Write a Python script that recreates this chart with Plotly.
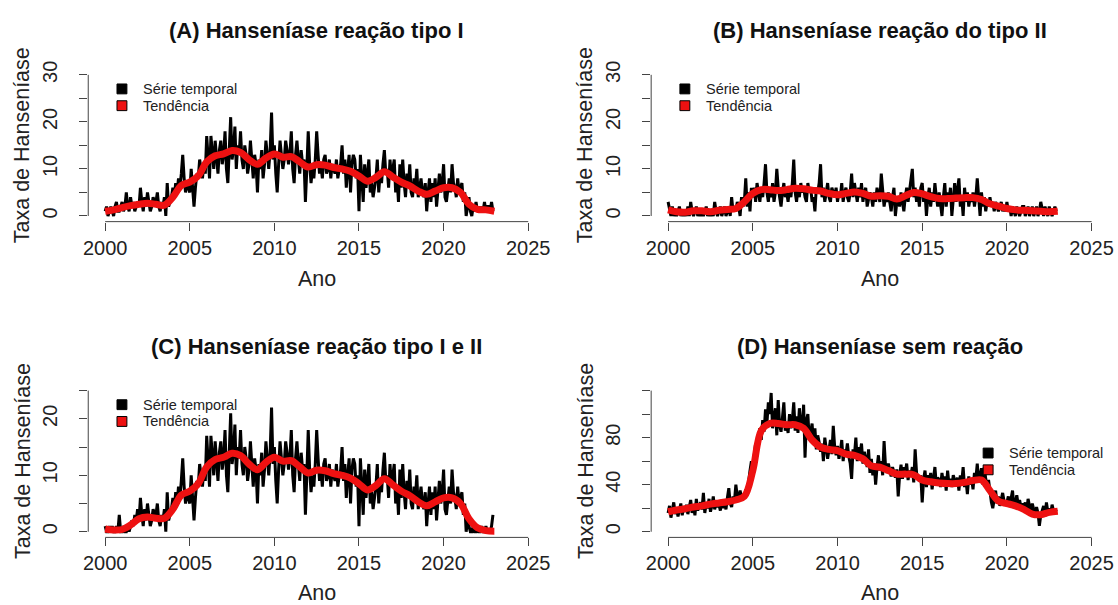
import plotly.graph_objects as go

W, H = 1118, 605
FONT = "Liberation Sans, Arial, sans-serif"

ano_inicial = 2000

# ---- (A) Hanseníase reação tipo I : série mensal 2000-2022 ----
serie_a = [
    1, 2, 0, 1, 2, 1, 0, 2, 3, 1, 1, 2,
    3, 1, 2, 5, 2, 1, 4, 2, 3, 1, 2, 3,
    2, 6, 3, 1, 4, 2, 5, 3, 1, 2, 4, 3,
    3, 5, 2, 1, 3, 2, 4, 0, 7, 2, 3, 4,
    6, 4, 7, 5, 8, 6, 9, 13, 8, 5, 7, 6,
    5, 10, 5, 2, 6, 9, 8, 12, 10, 8, 11, 9,
    17, 12, 8, 17, 13, 10, 16, 12, 9, 14, 16, 11,
    13, 18, 10, 7, 16, 21, 12, 14, 19, 10, 15, 13,
    18, 12, 10, 15, 13, 9, 11, 16, 12, 8, 13, 11,
    5, 12, 10, 14, 8, 11, 16, 13, 10, 14, 22, 12,
    15, 9, 5, 11, 16, 13, 10, 12, 16, 14, 11, 13,
    18, 10, 7, 13, 16, 12, 9, 14, 11, 12, 3, 10,
    18, 11, 7, 10, 8, 12, 18, 13, 9, 11, 8, 12,
    13, 9, 10, 12, 8, 11, 10, 9, 12, 8, 10, 11,
    15, 9, 12, 6, 10, 13, 5, 11, 13, 12, 8, 10,
    1, 13, 8, 3, 11, 6, 9, 12, 5, 7, 4, 6,
    8, 12, 5, 9, 7, 11, 14, 9, 10, 6, 12, 8,
    10, 12, 5, 8, 3, 11, 6, 12, 7, 4, 9, 6,
    11, 5, 4, 8, 6, 10, 4, 6, 8, 5, 4, 7,
    1, 5, 8, 3, 7, 4, 8, 2, 6, 9, 5, 7,
    11, 4, 3, 6, 8, 5, 11, 7, 6, 4, 8, 5,
    6, 7, 3, 5, 0, 2, 4, 1, 0, 2, 1, 3,
    1, 2, 1, 2, 1, 3, 1, 2, 2, 1, 3, 1,
]
# tendência semestral (2000.0, 2000.5, ..., 2023.0)
tend_a = [1.0, 1.3, 1.8, 2.2, 2.5, 2.7, 2.5, 2.3, 4.0, 6.5, 7.2, 8.5, 11.5, 12.8,
          13.2, 13.9, 13.5, 12.0, 11.0, 12.3, 13.2, 12.5, 12.6, 11.5, 10.4, 10.9,
          10.8, 10.3, 10.0, 9.5, 8.5, 7.4, 8.2, 9.4, 8.3, 7.2, 6.4, 5.3, 4.6, 5.3,
          6.0, 6.0, 5.0, 2.5, 1.4, 1.3, 1.0]

# ---- (B) Hanseníase reação do tipo II ----
serie_b = [
    3, 1, 0, 2, 0, 1, 0, 1, 2, 0, 1, 0,
    1, 0, 2, 0, 3, 1, 0, 1, 2, 0, 1, 0,
    1, 0, 1, 2, 0, 1, 0, 1, 0, 3, 1, 0,
    1, 2, 0, 1, 2, 0, 1, 2, 0, 4, 1, 2,
    1, 3, 2, 0, 4, 2, 3, 8, 2, 5, 1, 6,
    4, 6, 3, 7, 5, 3, 6, 4, 7, 11, 5, 3,
    6, 4, 7, 3, 5, 10, 6, 4, 2, 5, 7, 4,
    5, 3, 6, 4, 7, 12, 5, 3, 6, 4, 7, 5,
    6, 4, 3, 7, 5, 6, 3, 4, 1, 6, 5, 7,
    11, 4, 6, 3, 5, 7, 4, 3, 6, 5, 4, 6,
    3, 5, 4, 7, 3, 5, 6, 4, 3, 5, 9, 4,
    7, 5, 3, 6, 4, 7, 3, 5, 6, 2, 4, 5,
    4, 2, 5, 3, 6, 4, 3, 9, 5, 2, 4, 3,
    5, 3, 1, 4, 6, 0, 3, 4, 2, 5, 3, 1,
    4, 6, 3, 5, 7, 10, 4, 6, 3, 5, 2, 6,
    7, 3, 5, 0, 4, 6, 2, 5, 3, 7, 4, 2,
    5, 3, 0, 4, 7, 2, 5, 3, 6, 0, 4, 7,
    3, 5, 8, 2, 4, 0, 6, 3, 5, 2, 4, 3,
    5, 2, 4, 8, 3, 0, 5, 2, 4, 1, 3, 2,
    4, 2, 3, 1, 3, 2, 1, 2, 3, 1, 2, 1,
    3, 1, 2, 0, 2, 1, 0, 2, 1, 0, 1, 2,
    2, 0, 1, 2, 0, 1, 2, 0, 1, 2, 0, 1,
    3, 1, 0, 2, 1, 0, 2, 1, 0, 1, 2, 1,
]
tend_b = [1.3, 0.9, 0.8, 1.1, 1.1, 0.9, 1.2, 1.4, 1.6, 3.0, 4.8, 5.6, 5.6, 5.4,
          5.6, 5.9, 5.8, 5.5, 5.3, 4.8, 4.5, 4.8, 5.1, 4.8, 4.2, 4.3, 4.2, 3.6,
          4.3, 5.0, 4.7, 4.1, 3.7, 3.7, 3.8, 3.9, 3.9, 3.5, 2.6, 2.1, 1.6, 1.3,
          1.2, 1.1, 1.0, 0.9, 1.0]

# ---- (C) Hanseníase reação tipo I e II ----
serie_c_2000_2001 = [
    1, 0, 0, 1, 0, 1, 0, 0, 1, 0, 3, 0,
    0, 1, 0, 0, 1, 0, 1, 2, 1, 3, 2, 4,
]
serie_c_2021_2022 = [
    6, 7, 3, 5, 0, 2, 1, 0, 0, 1, 0, 0,
    1, 0, 0, 1, 0, 0, 1, 0, 0, 0, 1, 3,
]
serie_c = serie_c_2000_2001 + serie_a[24:252] + serie_c_2021_2022
tend_c = [0.5, 0.3, 0.4, 1.2, 2.3, 2.6, 2.4, 2.4, 4.0, 6.5, 7.2, 8.5, 11.5, 12.8,
          13.2, 13.9, 13.5, 12.0, 11.0, 12.3, 13.2, 12.5, 12.6, 11.5, 10.4, 10.9,
          10.8, 10.3, 10.0, 9.5, 8.5, 7.4, 8.2, 9.4, 8.3, 7.2, 6.4, 5.3, 4.6, 5.3,
          6.0, 6.0, 5.0, 2.3, 0.7, 0.2, 0.1]

# ---- (D) Hanseníase sem reação ----
serie_d = [
    16, 22, 12, 18, 25, 15, 20, 13, 19, 24, 14, 21,
    17, 23, 15, 20, 27, 16, 22, 14, 28, 18, 21, 25,
    19, 33, 16, 24, 20, 28, 17, 22, 30, 19, 25, 21,
    23, 18, 27, 20, 25, 19, 29, 37, 24, 21, 30, 26,
    40, 30, 27, 35, 29, 32, 28, 36, 33, 45, 52, 60,
    48, 65, 75, 70, 82, 88, 78, 95, 85, 104, 92, 110,
    100, 118, 88, 95, 105, 82, 112, 90, 85, 97, 110, 86,
    92, 84, 100, 88, 95, 110, 86, 98, 84, 105, 90, 88,
    108, 63, 95, 100, 78, 85, 92, 74, 88, 70, 82, 76,
    68, 75, 60, 80, 72, 62, 70, 78, 66, 90, 72, 65,
    73, 62, 68, 78, 60, 70, 66, 75, 64, 58, 45, 70,
    65, 80, 60, 72, 66, 75, 58, 68, 62, 55, 70, 50,
    62, 48, 58, 40, 55, 65, 52, 60, 48, 77, 56, 50,
    58, 52, 47, 55, 50, 46, 53, 30, 48, 57, 45, 55,
    50, 58, 44, 52, 48, 55, 42, 70, 50, 46, 43, 48,
    25, 45, 52, 38, 48, 42, 50, 36, 47, 55, 40, 46,
    44, 38, 50, 42, 47, 35, 52, 40, 45, 38, 48, 43,
    40, 46, 35, 48, 42, 55, 38, 44, 32, 47, 40, 45,
    36, 50, 45, 58, 42, 48, 54, 40, 55, 45, 38, 44,
    32, 25, 20, 28, 35, 24, 30, 22, 27, 33, 26, 24,
    25, 30, 22, 28, 35, 20, 26, 31, 23, 27, 21, 24,
    20, 25, 17, 28, 22, 15, 24, 19, 14, 21, 16, 5,
    14, 18, 22, 13, 25, 17, 20, 15, 23, 18, 16, 19,
]
tend_d = [17, 18.5, 19.5, 21, 22, 23.5, 24.5, 25.5, 27, 30, 52, 86, 92, 92, 91, 91,
          88, 78, 72, 70, 69, 66, 65, 62, 56, 55, 52, 49, 49, 48.5, 44, 42.5, 41.5,
          41, 41, 42, 43.5, 44, 35, 26, 24, 22, 19, 15, 14.5, 16.5, 17.5]

titulos = ["(A) Hanseníase reação tipo I", "(B) Hanseníase reação do tipo II",
           "(C) Hanseníase reação tipo I e II", "(D) Hanseníase sem reação"]
anos_ticks = [2000, 2005, 2010, 2015, 2020, 2025]
legenda = ["Série temporal", "Tendência"]

# y axis ticks per panel
y_ticks = [[0, 5, 10, 15, 20, 25, 30], [0, 5, 10, 15, 20, 25, 30],
           [0, 5, 10, 15, 20, 25], [0, 20, 40, 60, 80, 100, 120]]
y_labels = [["0", "", "10", "", "20", "", "30"], ["0", "", "10", "", "20", "", "30"],
            ["0", "", "10", "", "20", ""], ["0", "", "40", "", "80", "", ""]]

series = [serie_a, serie_b, serie_c, serie_d]
tendencias = [tend_a, tend_b, tend_c, tend_d]


def px(x):
    return x / W


def py(y):
    return 1 - y / H


# layout in pixels
col_x = [(84, 545), (652, 1113.5)]
row_y = [(62, 216.5), (382, 536.5)]
leg_pos = [(118, 82), (686, 82), (118, 402), (992, 451)]

fig = go.Figure()
shapes = []
annotations = []

for k in range(4):
    r, c = divmod(k, 2)
    sfx = "" if k == 0 else str(k + 1)
    xa, ya = "x" + sfx, "y" + sfx
    s = series[k]
    t = tendencias[k]
    xs = [ano_inicial + i / 12 for i in range(len(s))]
    xt = [ano_inicial + 0.5 * i for i in range(len(t))]
    fig.add_trace(go.Scatter(x=xs, y=s, mode="lines", line=dict(color="black", width=3.0),
                             xaxis=xa, yaxis=ya, showlegend=False, name=legenda[0]))
    fig.add_trace(go.Scatter(x=xt, y=t, mode="lines",
                             line=dict(color="#ee1111", width=7, shape="spline", smoothing=1.0),
                             xaxis=xa, yaxis=ya, showlegend=False, name=legenda[1]))
    ymax = y_ticks[k][-1]
    ext = 0.04 * ymax
    x0p, x1p = col_x[c]
    y0p, y1p = row_y[r]
    fig.update_layout(**{
        "xaxis" + sfx: dict(domain=[px(x0p), px(x1p)], range=[1999, 2026], tickvals=anos_ticks,
                            ticks="outside", ticklen=8, tickcolor="#444", tickwidth=1,
                            showline=False, showgrid=False, zeroline=False,
                            tickfont=dict(family=FONT, size=20, color="#222"),
                            anchor=ya, fixedrange=True),
        "yaxis" + sfx: dict(domain=[py(y1p), py(y0p)], range=[-ext, ymax + ext],
                            tickvals=y_ticks[k], ticktext=y_labels[k], tickangle=-90,
                            ticks="outside", ticklen=8, tickcolor="#444", tickwidth=1,
                            ticklabelstandoff=14,
                            showline=False, showgrid=False, zeroline=False,
                            tickfont=dict(family=FONT, size=20, color="#222"),
                            anchor=xa, fixedrange=True),
    })
    # R-style axis lines spanning first to last tick
    shapes.append(dict(type="line", xref=xa, yref=ya + " domain", x0=2000, x1=2025, y0=0, y1=0,
                       line=dict(color="#444", width=1)))
    shapes.append(dict(type="line", xref=xa + " domain", yref=ya, x0=0, x1=0, y0=0, y1=ymax,
                       line=dict(color="#444", width=1)))
    # titles
    cx = (x0p + x1p) / 2
    annotations.append(dict(text="<b>" + titulos[k] + "</b>", x=px(cx), y=py(23 + 320 * r),
                            xref="paper", yref="paper", showarrow=False, xanchor="center", yanchor="middle",
                            font=dict(family=FONT, size=22, color="#111")))
    annotations.append(dict(text="Ano", x=px(cx), y=py(275 + 318 * r), xref="paper", yref="paper",
                            showarrow=False, xanchor="center", yanchor="middle",
                            font=dict(family=FONT, size=21.5, color="#222")))
    annotations.append(dict(text="Taxa de Hanseníase", x=px(x0p - 66), y=py((y0p + y1p) / 2),
                            xref="paper", yref="paper", showarrow=False, textangle=-90,
                            xanchor="center", yanchor="middle",
                            font=dict(family=FONT, size=21.5, color="#222")))
    # legend (R style filled boxes)
    lx, ly = leg_pos[k]
    for j, col in enumerate(["black", "#ee1111"]):
        yy = ly + 17 * j
        shapes.append(dict(type="rect", xref="paper", yref="paper",
                           x0=px(lx - 5), x1=px(lx + 5), y0=py(yy + 5), y1=py(yy - 5),
                           fillcolor=col, line=dict(color="black", width=1)))
        annotations.append(dict(text=legenda[j], x=px(lx + 19), y=py(yy), xref="paper", yref="paper",
                                showarrow=False, xanchor="left", yanchor="middle",
                                font=dict(family=FONT, size=14.5, color="#222")))

fig.update_layout(width=W, height=H, margin=dict(l=0, r=0, t=0, b=0),
                  paper_bgcolor="white", plot_bgcolor="white", showlegend=False,
                  shapes=shapes, annotations=annotations)

fig.write_html("out.html")
